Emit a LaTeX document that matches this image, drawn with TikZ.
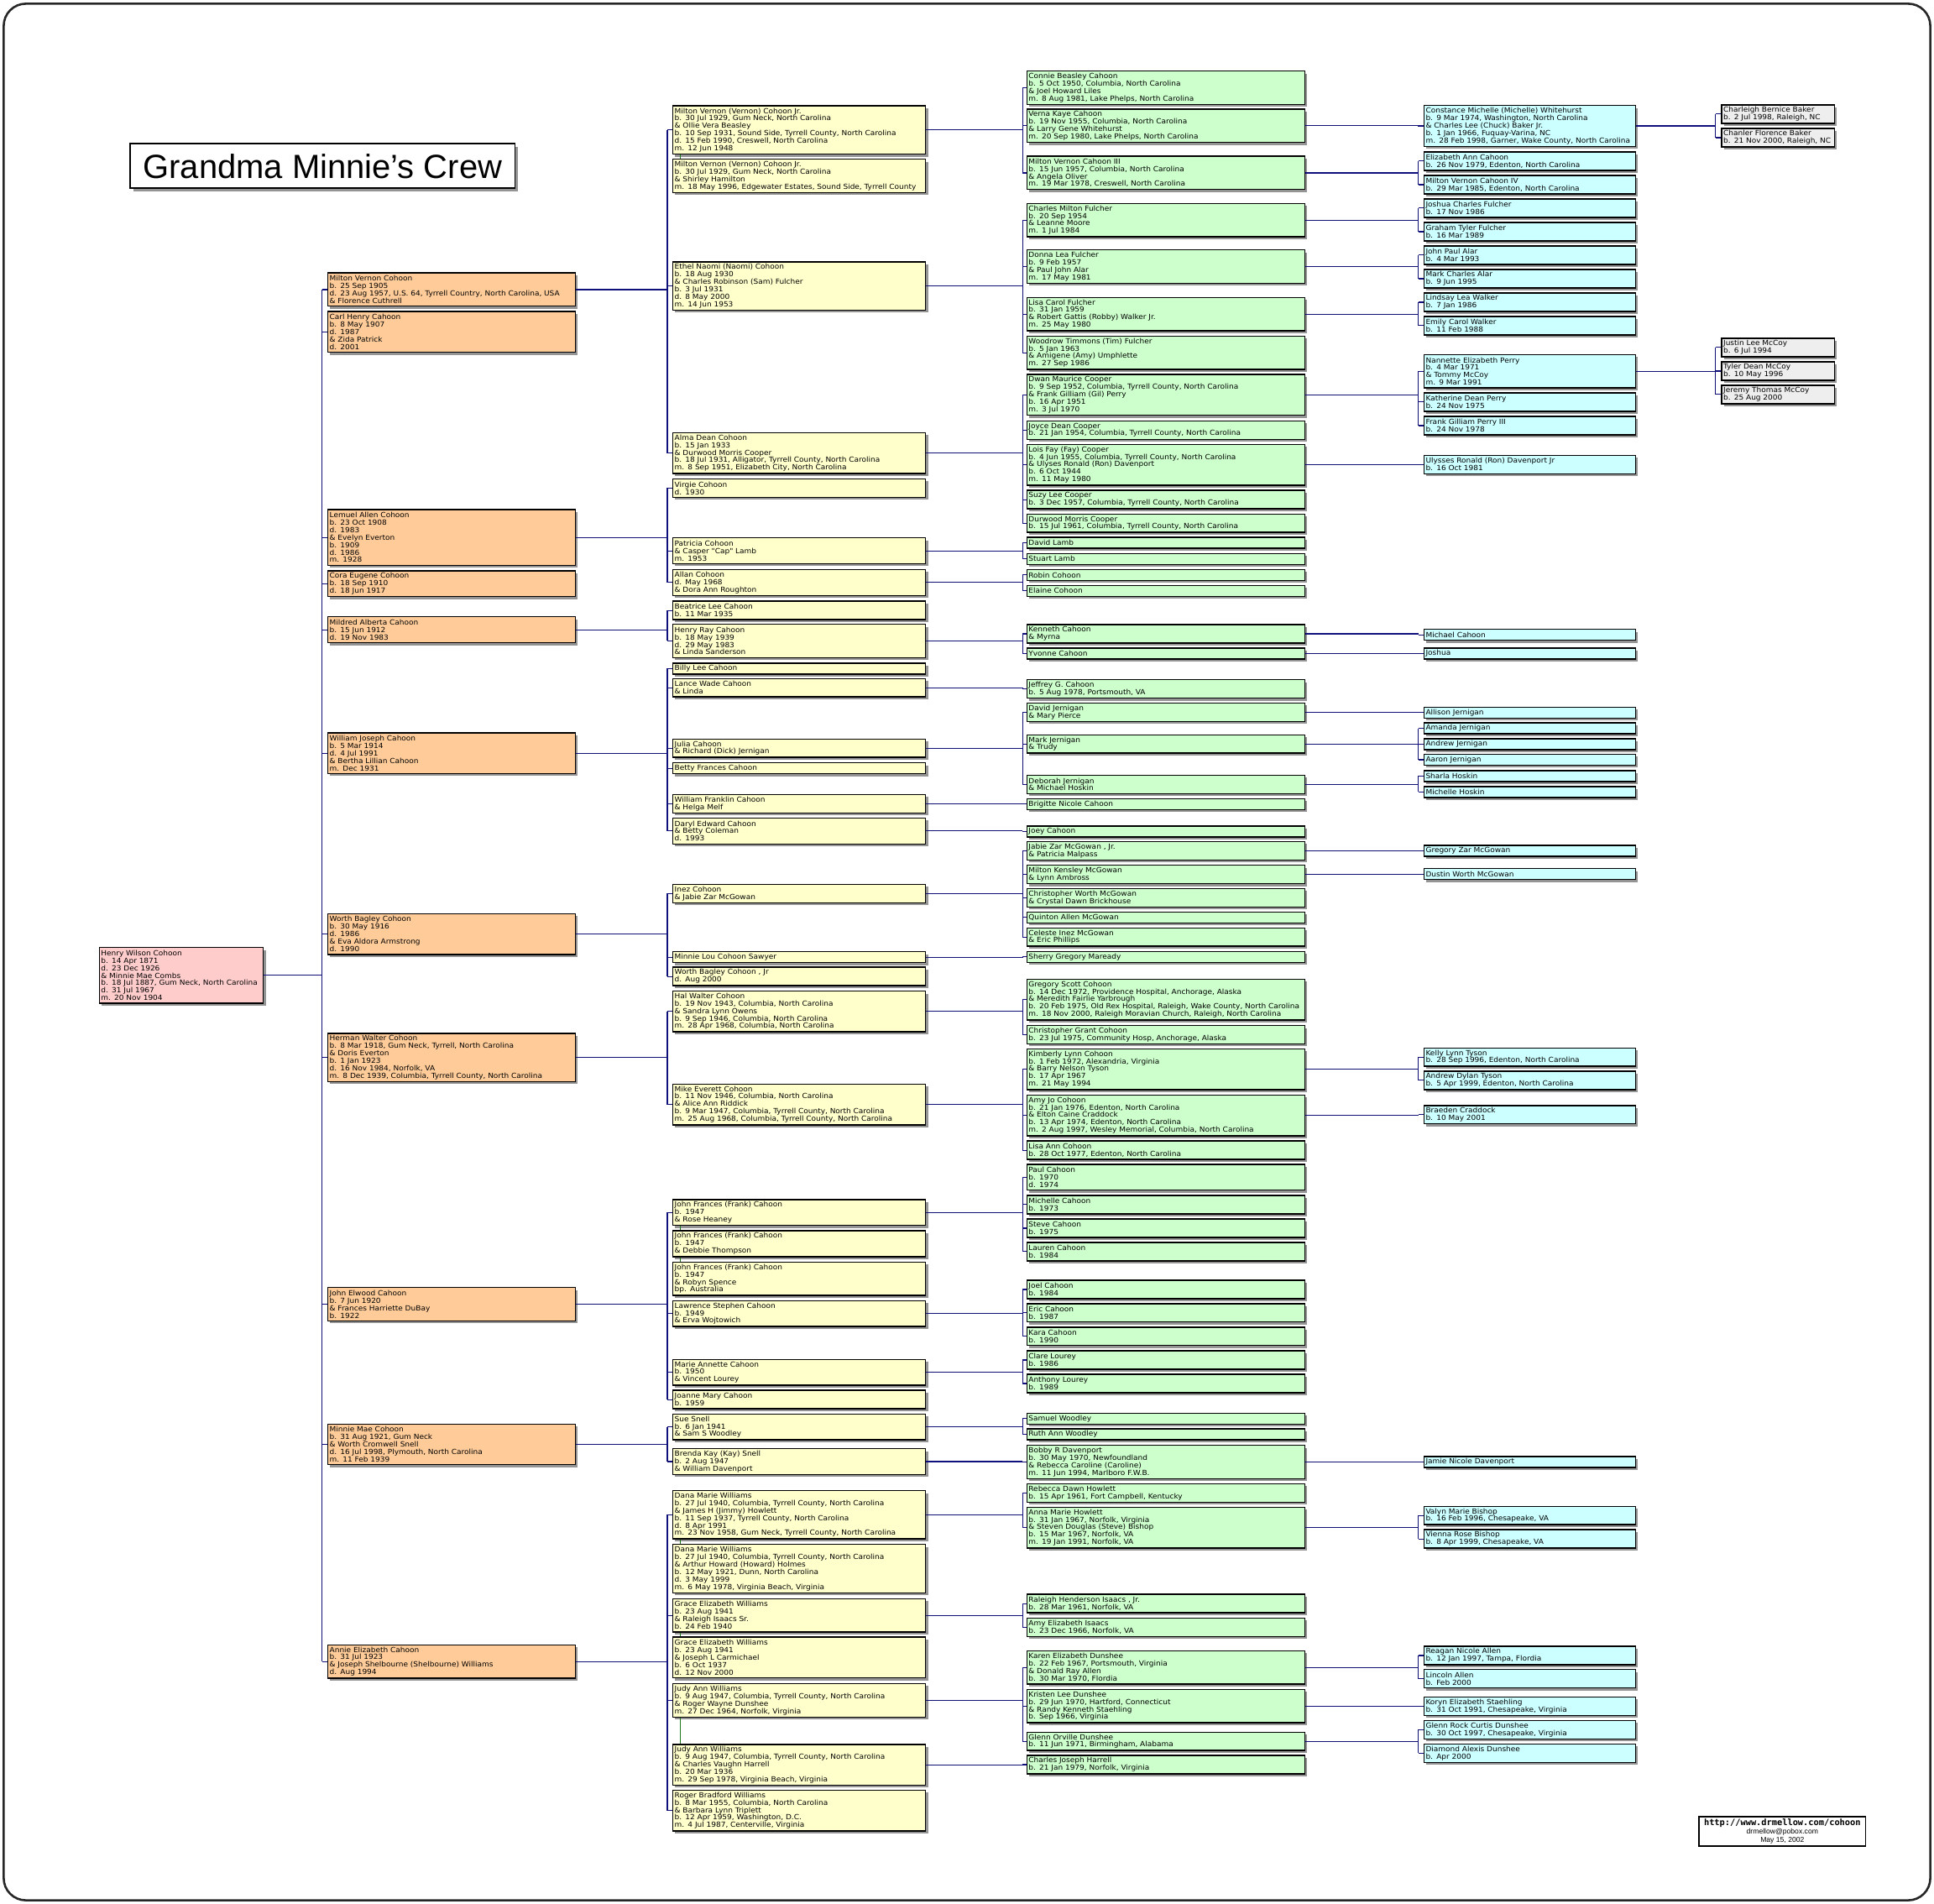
\documentclass[tikz,border=0pt]{standalone}
\usepackage{fontspec}
\setmainfont{DejaVu Sans}
\newfontfamily\boxfont{DejaVu Sans}[FakeStretch=1.065]
\newfontfamily\titlefont{Liberation Sans}
\newfontfamily\footmono{DejaVu Sans Mono}
\usetikzlibrary{shadows}
\definecolor{cpink}{HTML}{FFCCCC}
\definecolor{corange}{HTML}{FFCC99}
\definecolor{cyellow}{HTML}{FFFFCC}
\definecolor{cgreen}{HTML}{CCFFCC}
\definecolor{ccyan}{HTML}{CCFFFF}
\definecolor{cgray}{HTML}{EEEEEE}
\definecolor{cnavy}{HTML}{10107A}
\definecolor{cdup}{HTML}{1E7A1E}
\tikzset{
  psn/.style={draw=black, line width=0.4pt, anchor=north west, align=left,
    inner xsep=0.022cm, inner ysep=0pt,
    font=\boxfont\fontsize{2.45pt}{2.58pt}\selectfont,
    drop shadow={shadow xshift=0.03cm, shadow yshift=-0.03cm, fill=black!42, opacity=1}},
  k0/.style={psn, fill=cpink, text width=1.951cm},
  k1/.style={psn, fill=corange, text width=2.964cm},
  k2/.style={psn, fill=cyellow, text width=3.031cm},
  k3/.style={psn, fill=cgreen, text width=3.336cm},
  k4/.style={psn, fill=ccyan, text width=2.529cm},
  k5/.style={psn, fill=cgray, text width=1.329cm},
  conn/.style={draw=cnavy, line width=0.32pt},
  dupline/.style={draw=cdup, line width=0.32pt},
}
\newcommand\bx[6]{\node[#2, minimum height={(6.05*#5+2.8)*0.015cm}] (#1) at (#3,#4) {#6};}
\newcommand\cA[4]{\bx{#1}{k0}{80}{#2}{#3}{#4}}
\newcommand\cB[4]{\bx{#1}{k1}{265.3}{#2}{#3}{#4}}
\newcommand\cC[4]{\bx{#1}{k2}{545}{#2}{#3}{#4}}
\newcommand\cD[4]{\bx{#1}{k3}{832}{#2}{#3}{#4}}
\newcommand\cE[4]{\bx{#1}{k4}{1154}{#2}{#3}{#4}}
\newcommand\cF[4]{\bx{#1}{k5}{1395.3}{#2}{#3}{#4}}
\newcommand\kinlink[5]{%
  \draw[conn] (#1.east) -- (#1.east -| #2) (#1.east -| #2) -- (#3.west -| #2) (#1.east -| #2) -- (#4.west -| #2);
  \foreach \c in {#5} {\draw[conn] (\c.west -| #2) -- (\c.west);}
}
\newcommand\duplink[2]{\draw[dupline] (#1.south -| g) -- (#2.north -| g);}
\begin{document}
\begin{tikzpicture}[x=0.015cm, y=-0.015cm]
\useasboundingbox (0,0) rectangle (1568,1543.5);
\fill[white] (0,0) rectangle (1568,1543.5);
\draw[line width=0.75pt, rounded corners=0.27cm, draw=black!85] (3,3) rectangle (1565,1540.5);
\coordinate (b1) at (261,0);
\coordinate (b2) at (541,0);
\coordinate (b3) at (829,0);
\coordinate (b4) at (1150,0);
\coordinate (b5) at (1391,0);
\coordinate (g) at (551.5,0);

% title
\node[draw=black, line width=0.5pt, fill=white, anchor=north west, minimum width={312*0.015cm}, minimum height={36*0.015cm}, inner sep=0pt,
  drop shadow={shadow xshift=0.035cm, shadow yshift=-0.035cm, fill=black!42, opacity=1},
  font=\titlefont\fontsize{11.6pt}{13pt}\selectfont] (title) at (105,116) {Grandma Minnie’s Crew};

% footer
\node[draw=black, line width=0.45pt, fill=white, anchor=north west, minimum width={135*0.015cm}, minimum height={24*0.015cm}, inner sep=0pt, align=center,
  font=\titlefont\fontsize{2.5pt}{2.95pt}\selectfont] (footer) at (1377,1472)
  {{\footmono\bfseries\fontsize{3.0pt}{2.95pt}\selectfont http://www.drmellow.com/cohoon}\\ drmellow@pobox.com\\ May 15, 2002};

% generation 0
\cA{henry}{767.7}{7}{Henry Wilson Cohoon\\ b. 14 Apr 1871\\ d. 23 Dec 1926\\ \& Minnie Mae Combs\\ b. 18 Jul 1887, Gum Neck, North Carolina\\ d. 31 Jul 1967\\ m. 20 Nov 1904}

% generation 1
\cB{mvc}{220.8}{4}{Milton Vernon Cohoon\\ b. 25 Sep 1905\\ d. 23 Aug 1957, U.S. 64, Tyrrell Country, North Carolina, USA\\ \& Florence Cuthrell}
\cB{carl}{252.1}{5}{Carl Henry Cahoon\\ b. 8 May 1907\\ d. 1987\\ \& Zida Patrick\\ d. 2001}
\cB{lemuel}{412.6}{7}{Lemuel Allen Cohoon\\ b. 23 Oct 1908\\ d. 1983\\ \& Evelyn Everton\\ b. 1909\\ d. 1986\\ m. 1928}
\cB{cora}{462.2}{3}{Cora Eugene Cohoon\\ b. 18 Sep 1910\\ d. 18 Jun 1917}
\cB{mildred}{499.6}{3}{Mildred Alberta Cahoon\\ b. 15 Jun 1912\\ d. 19 Nov 1983}
\cB{william}{593.6}{5}{William Joseph Cahoon\\ b. 5 Mar 1914\\ d. 4 Jul 1991\\ \& Bertha Lillian Cahoon\\ m. Dec 1931}
\cB{worth}{740.2}{5}{Worth Bagley Cohoon\\ b. 30 May 1916\\ d. 1986\\ \& Eva Aldora Armstrong\\ d. 1990}
\cB{herman}{837.2}{6}{Herman Walter Cohoon\\ b. 8 Mar 1918, Gum Neck, Tyrrell, North Carolina\\ \& Doris Everton\\ b. 1 Jan 1923\\ d. 16 Nov 1984, Norfolk, VA\\ m. 8 Dec 1939, Columbia, Tyrrell County, North Carolina}
\cB{johne}{1043.3}{4}{John Elwood Cahoon\\ b. 7 Jun 1920\\ \& Frances Harriette DuBay\\ b. 1922}
\cB{minnie}{1153.9}{5}{Minnie Mae Cohoon\\ b. 31 Aug 1921, Gum Neck\\ \& Worth Cromwell Snell\\ d. 16 Jul 1998, Plymouth, North Carolina\\ m. 11 Feb 1939}
\cB{annie}{1332.9}{4}{Annie Elizabeth Cahoon\\ b. 31 Jul 1923\\ \& Joseph Shelbourne (Shelbourne) Williams\\ d. Aug 1994}

% generation 2
\cC{mvj1}{85.4}{6}{Milton Vernon (Vernon) Cohoon Jr.\\ b. 30 Jul 1929, Gum Neck, North Carolina\\ \& Ollie Vera Beasley\\ b. 10 Sep 1931, Sound Side, Tyrrell County, North Carolina\\ d. 15 Feb 1990, Creswell, North Carolina\\ m. 12 Jun 1948}
\cC{mvj2}{128.6}{4}{Milton Vernon (Vernon) Cohoon Jr.\\ b. 30 Jul 1929, Gum Neck, North Carolina\\ \& Shirley Hamilton\\ m. 18 May 1996, Edgewater Estates, Sound Side, Tyrrell County}
\cC{ethel}{211.9}{6}{Ethel Naomi (Naomi) Cohoon\\ b. 18 Aug 1930\\ \& Charles Robinson (Sam) Fulcher\\ b. 3 Jul 1931\\ d. 8 May 2000\\ m. 14 Jun 1953}
\cC{alma}{350.3}{5}{Alma Dean Cohoon\\ b. 15 Jan 1933\\ \& Durwood Morris Cooper\\ b. 18 Jul 1931, Alligator, Tyrrell County, North Carolina\\ m. 8 Sep 1951, Elizabeth City, North Carolina}
\cC{virgie}{387.8}{2}{Virgie Cohoon\\ d. 1930}
\cC{patricia}{435.6}{3}{Patricia Cohoon\\ \& Casper "Cap" Lamb\\ m. 1953}
\cC{allan}{461.3}{3}{Allan Cohoon\\ d. May 1968\\ \& Dora Ann Roughton}
\cC{beatrice}{486.9}{2}{Beatrice Lee Cahoon\\ b. 11 Mar 1935}
\cC{henryray}{505.6}{4}{Henry Ray Cahoon\\ b. 18 May 1939\\ d. 29 May 1983\\ \& Linda Sanderson}
\cC{billy}{537.1}{1}{Billy Lee Cahoon}
\cC{lance}{549.6}{2}{Lance Wade Cahoon\\ \& Linda}
\cC{julia}{598.6}{2}{Julia Cahoon\\ \& Richard (Dick) Jernigan}
\cC{betty}{618.0}{1}{Betty Frances Cahoon}
\cC{wfranklin}{643.6}{2}{William Franklin Cahoon\\ \& Helga Melf}
\cC{daryl}{662.7}{3}{Daryl Edward Cahoon\\ \& Betty Coleman\\ d. 1993}
\cC{inez}{716.4}{2}{Inez Cohoon\\ \& Jabie Zar McGowan}
\cC{minnielou}{771.1}{1}{Minnie Lou Cohoon Sawyer}
\cC{worthjr}{783.6}{2}{Worth Bagley Cohoon , Jr\\ d. Aug 2000}
\cC{hal}{803.0}{5}{Hal Walter Cohoon\\ b. 19 Nov 1943, Columbia, North Carolina\\ \& Sandra Lynn Owens\\ b. 9 Sep 1946, Columbia, North Carolina\\ m. 28 Apr 1968, Columbia, North Carolina}
\cC{mike}{878.3}{5}{Mike Everett Cohoon\\ b. 11 Nov 1946, Columbia, North Carolina\\ \& Alice Ann Riddick\\ b. 9 Mar 1947, Columbia, Tyrrell County, North Carolina\\ m. 25 Aug 1968, Columbia, Tyrrell County, North Carolina}
\cC{jf1}{972.0}{3}{John Frances (Frank) Cahoon\\ b. 1947\\ \& Rose Heaney}
\cC{jf2}{997.3}{3}{John Frances (Frank) Cahoon\\ b. 1947\\ \& Debbie Thompson}
\cC{jf3}{1022.7}{4}{John Frances (Frank) Cahoon\\ b. 1947\\ \& Robyn Spence\\ bp. Australia}
\cC{lawrence}{1053.9}{3}{Lawrence Stephen Cahoon\\ b. 1949\\ \& Erva Wojtowich}
\cC{marie}{1101.5}{3}{Marie Annette Cahoon\\ b. 1950\\ \& Vincent Lourey}
\cC{joanne}{1126.6}{2}{Joanne Mary Cahoon\\ b. 1959}
\cC{sue}{1145.8}{3}{Sue Snell\\ b. 6 Jan 1941\\ \& Sam S Woodley}
\cC{brenda}{1173.9}{3}{Brenda Kay (Kay) Snell\\ b. 2 Aug 1947\\ \& William Davenport}
\cC{dana1}{1208.0}{6}{Dana Marie Williams\\ b. 27 Jul 1940, Columbia, Tyrrell County, North Carolina\\ \& James H (Jimmy) Howlett\\ b. 11 Sep 1937, Tyrrell County, North Carolina\\ d. 8 Apr 1991\\ m. 23 Nov 1958, Gum Neck, Tyrrell County, North Carolina}
\cC{dana2}{1251.6}{6}{Dana Marie Williams\\ b. 27 Jul 1940, Columbia, Tyrrell County, North Carolina\\ \& Arthur Howard (Howard) Holmes\\ b. 12 May 1921, Dunn, North Carolina\\ d. 3 May 1999\\ m. 6 May 1978, Virginia Beach, Virginia}
\cC{grace1}{1295.5}{4}{Grace Elizabeth Williams\\ b. 23 Aug 1941\\ \& Raleigh Isaacs Sr.\\ b. 24 Feb 1940}
\cC{grace2}{1326.7}{5}{Grace Elizabeth Williams\\ b. 23 Aug 1941\\ \& Joseph L Carmichael\\ b. 6 Oct 1937\\ d. 12 Nov 2000}
\cC{judy1}{1364.4}{4}{Judy Ann Williams\\ b. 9 Aug 1947, Columbia, Tyrrell County, North Carolina\\ \& Roger Wayne Dunshee\\ m. 27 Dec 1964, Norfolk, Virginia}
\cC{judy2}{1413.6}{5}{Judy Ann Williams\\ b. 9 Aug 1947, Columbia, Tyrrell County, North Carolina\\ \& Charles Vaughn Harrell\\ b. 20 Mar 1936\\ m. 29 Sep 1978, Virginia Beach, Virginia}
\cC{roger}{1450.8}{5}{Roger Bradford Williams\\ b. 8 Mar 1955, Columbia, North Carolina\\ \& Barbara Lynn Triplett\\ b. 12 Apr 1959, Washington, D.C.\\ m. 4 Jul 1987, Centerville, Virginia}

% generation 3
\cD{connie}{57.2}{4}{Connie Beasley Cahoon\\ b. 5 Oct 1950, Columbia, North Carolina\\ \& Joel Howard Liles\\ m. 8 Aug 1981, Lake Phelps, North Carolina}
\cD{verna}{88.0}{4}{Verna Kaye Cahoon\\ b. 19 Nov 1955, Columbia, North Carolina\\ \& Larry Gene Whitehurst\\ m. 20 Sep 1980, Lake Phelps, North Carolina}
\cD{mv3}{126.2}{4}{Milton Vernon Cahoon III\\ b. 15 Jun 1957, Columbia, North Carolina\\ \& Angela Oliver\\ m. 19 Mar 1978, Creswell, North Carolina}
\cD{charlesm}{164.4}{4}{Charles Milton Fulcher\\ b. 20 Sep 1954\\ \& Leanne Moore\\ m. 1 Jul 1984}
\cD{donna}{202.1}{4}{Donna Lea Fulcher\\ b. 9 Feb 1957\\ \& Paul John Alar\\ m. 17 May 1981}
\cD{lisac}{240.6}{4}{Lisa Carol Fulcher\\ b. 31 Jan 1959\\ \& Robert Gattis (Robby) Walker Jr.\\ m. 25 May 1980}
\cD{woodrow}{272.0}{4}{Woodrow Timmons (Tim) Fulcher\\ b. 5 Jan 1963\\ \& Amigene (Amy) Umphlette\\ m. 27 Sep 1986}
\cD{dwan}{303.1}{5}{Dwan Maurice Cooper\\ b. 9 Sep 1952, Columbia, Tyrrell County, North Carolina\\ \& Frank Gilliam (Gil) Perry\\ b. 16 Apr 1951\\ m. 3 Jul 1970}
\cD{joyce}{340.7}{2}{Joyce Dean Cooper\\ b. 21 Jan 1954, Columbia, Tyrrell County, North Carolina}
\cD{lois}{359.8}{5}{Lois Fay (Fay) Cooper\\ b. 4 Jun 1955, Columbia, Tyrrell County, North Carolina\\ \& Ulyses Ronald (Ron) Davenport\\ b. 6 Oct 1944\\ m. 11 May 1980}
\cD{suzy}{397.1}{2}{Suzy Lee Cooper\\ b. 3 Dec 1957, Columbia, Tyrrell County, North Carolina}
\cD{durwood}{416.2}{2}{Durwood Morris Cooper\\ b. 15 Jul 1961, Columbia, Tyrrell County, North Carolina}
\cD{davidl}{435.0}{1}{David Lamb}
\cD{stuart}{448.2}{1}{Stuart Lamb}
\cD{robin}{461.2}{1}{Robin Cohoon}
\cD{elaine}{474.1}{1}{Elaine Cohoon}
\cD{kenneth}{505.9}{2}{Kenneth Cahoon\\ \& Myrna}
\cD{yvonne}{525.0}{1}{Yvonne Cahoon}
\cD{jeffrey}{550.6}{2}{Jeffrey G. Cahoon\\ b. 5 Aug 1978, Portsmouth, VA}
\cD{davidj}{569.4}{2}{David Jernigan\\ \& Mary Pierce}
\cD{markj}{595.2}{2}{Mark Jernigan\\ \& Trudy}
\cD{deborah}{628.0}{2}{Deborah Jernigan\\ \& Michael Hoskin}
\cD{brigitte}{646.9}{1}{Brigitte Nicole Cahoon}
\cD{joey}{669.1}{1}{Joey Cahoon}
\cD{jabie}{681.8}{2}{Jabie Zar McGowan , Jr.\\ \& Patricia Malpass}
\cD{miltonk}{701.0}{2}{Milton Kensley McGowan\\ \& Lynn Ambross}
\cD{chrisw}{719.8}{2}{Christopher Worth McGowan\\ \& Crystal Dawn Brickhouse}
\cD{quinton}{738.9}{1}{Quinton Allen McGowan}
\cD{celeste}{751.7}{2}{Celeste Inez McGowan\\ \& Eric Phillips}
\cD{sherry}{770.9}{1}{Sherry Gregory Maready}
\cD{gregs}{793.3}{5}{Gregory Scott Cohoon\\ b. 14 Dec 1972, Providence Hospital, Anchorage, Alaska\\ \& Meredith Fairlie Yarbrough\\ b. 20 Feb 1975, Old Rex Hospital, Raleigh, Wake County, North Carolina\\ m. 18 Nov 2000, Raleigh Moravian Church, Raleigh, North Carolina}
\cD{chrisg}{830.9}{2}{Christopher Grant Cohoon\\ b. 23 Jul 1975, Community Hosp, Anchorage, Alaska}
\cD{kimberly}{849.8}{5}{Kimberly Lynn Cohoon\\ b. 1 Feb 1972, Alexandria, Virginia\\ \& Barry Nelson Tyson\\ b. 17 Apr 1967\\ m. 21 May 1994}
\cD{amyjo}{887.2}{5}{Amy Jo Cohoon\\ b. 21 Jan 1976, Edenton, North Carolina\\ \& Elton Caine Craddock\\ b. 13 Apr 1974, Edenton, North Carolina\\ m. 2 Aug 1997, Wesley Memorial, Columbia, North Carolina}
\cD{lisaann}{924.5}{2}{Lisa Ann Cohoon\\ b. 28 Oct 1977, Edenton, North Carolina}
\cD{paul}{943.4}{3}{Paul Cahoon\\ b. 1970\\ d. 1974}
\cD{michellec}{968.6}{2}{Michelle Cahoon\\ b. 1973}
\cD{steve}{987.7}{2}{Steve Cahoon\\ b. 1975}
\cD{lauren}{1006.7}{2}{Lauren Cahoon\\ b. 1984}
\cD{joel}{1037.4}{2}{Joel Cahoon\\ b. 1984}
\cD{eric}{1056.3}{2}{Eric Cahoon\\ b. 1987}
\cD{kara}{1075.4}{2}{Kara Cahoon\\ b. 1990}
\cD{clare}{1094.6}{2}{Clare Lourey\\ b. 1986}
\cD{anthony}{1113.6}{2}{Anthony Lourey\\ b. 1989}
\cD{samuel}{1145.1}{1}{Samuel Woodley}
\cD{ruth}{1157.9}{1}{Ruth Ann Woodley}
\cD{bobby}{1171.2}{4}{Bobby R Davenport\\ b. 30 May 1970, Newfoundland\\ \& Rebecca Caroline (Caroline)\\ m. 11 Jun 1994, Marlboro F.W.B.}
\cD{rebecca}{1202.3}{2}{Rebecca Dawn Howlett\\ b. 15 Apr 1961, Fort Campbell, Kentucky}
\cD{annam}{1221.3}{5}{Anna Marie Howlett\\ b. 31 Jan 1967, Norfolk, Virginia\\ \& Steven Douglas (Steve) Bishop\\ b. 15 Mar 1967, Norfolk, VA\\ m. 19 Jan 1991, Norfolk, VA}
\cD{raleigh}{1292.0}{2}{Raleigh Henderson Isaacs , Jr.\\ b. 28 Mar 1961, Norfolk, VA}
\cD{amye}{1311.2}{2}{Amy Elizabeth Isaacs\\ b. 23 Dec 1966, Norfolk, VA}
\cD{karen}{1337.8}{4}{Karen Elizabeth Dunshee\\ b. 22 Feb 1967, Portsmouth, Virginia\\ \& Donald Ray Allen\\ b. 30 Mar 1970, Flordia}
\cD{kristen}{1369.1}{4}{Kristen Lee Dunshee\\ b. 29 Jun 1970, Hartford, Connecticut\\ \& Randy Kenneth Staehling\\ b. Sep 1966, Virginia}
\cD{glenn}{1403.7}{2}{Glenn Orville Dunshee\\ b. 11 Jun 1971, Birmingham, Alabama}
\cD{charlesj}{1422.6}{2}{Charles Joseph Harrell\\ b. 21 Jan 1979, Norfolk, Virginia}

% generation 4
\cE{constance}{85.1}{5}{Constance Michelle (Michelle) Whitehurst\\ b. 9 Mar 1974, Washington, North Carolina\\ \& Charles Lee (Chuck) Baker Jr.\\ b. 1 Jan 1966, Fuquay-Varina, NC\\ m. 28 Feb 1998, Garner, Wake County, North Carolina}
\cE{elizabeth}{122.7}{2}{Elizabeth Ann Cahoon\\ b. 26 Nov 1979, Edenton, North Carolina}
\cE{mv4}{141.8}{2}{Milton Vernon Cahoon IV\\ b. 29 Mar 1985, Edenton, North Carolina}
\cE{joshuacf}{160.8}{2}{Joshua Charles Fulcher\\ b. 17 Nov 1986}
\cE{graham}{179.9}{2}{Graham Tyler Fulcher\\ b. 16 Mar 1989}
\cE{johnpaul}{198.9}{2}{John Paul Alar\\ b. 4 Mar 1993}
\cE{markc}{218.0}{2}{Mark Charles Alar\\ b. 9 Jun 1995}
\cE{lindsay}{237.1}{2}{Lindsay Lea Walker\\ b. 7 Jan 1986}
\cE{emily}{256.1}{2}{Emily Carol Walker\\ b. 11 Feb 1988}
\cE{nannette}{287.0}{4}{Nannette Elizabeth Perry\\ b. 4 Mar 1971\\ \& Tommy McCoy\\ m. 9 Mar 1991}
\cE{katherine}{318.0}{2}{Katherine Dean Perry\\ b. 24 Nov 1975}
\cE{frank3}{337.1}{2}{Frank Gilliam Perry III\\ b. 24 Nov 1978}
\cE{ulysses}{368.6}{2}{Ulysses Ronald (Ron) Davenport Jr\\ b. 16 Oct 1981}
\cE{michael}{509.8}{1}{Michael Cahoon}
\cE{joshua}{525.0}{1}{Joshua}
\cE{allison}{572.7}{1}{Allison Jernigan}
\cE{amanda}{585.6}{1}{Amanda Jernigan}
\cE{andrew}{598.5}{1}{Andrew Jernigan}
\cE{aaron}{611.0}{1}{Aaron Jernigan}
\cE{sharla}{624.2}{1}{Sharla Hoskin}
\cE{michelleh}{637.1}{1}{Michelle Hoskin}
\cE{gregoryz}{684.8}{1}{Gregory Zar McGowan}
\cE{dustin}{703.7}{1}{Dustin Worth McGowan}
\cE{kelly}{849.0}{2}{Kelly Lynn Tyson\\ b. 28 Sep 1996, Edenton, North Carolina}
\cE{andrewd}{867.9}{2}{Andrew Dylan Tyson\\ b. 5 Apr 1999, Edenton, North Carolina}
\cE{braeden}{895.7}{2}{Braeden Craddock\\ b. 10 May 2001}
\cE{jamie}{1180.3}{1}{Jamie Nicole Davenport}
\cE{valyn}{1220.6}{2}{Valyn Marie Bishop\\ b. 16 Feb 1996, Chesapeake, VA}
\cE{vienna}{1239.6}{2}{Vienna Rose Bishop\\ b. 8 Apr 1999, Chesapeake, VA}
\cE{reagan}{1334.1}{2}{Reagan Nicole Allen\\ b. 12 Jan 1997, Tampa, Flordia}
\cE{lincoln}{1353.0}{2}{Lincoln Allen\\ b. Feb 2000}
\cE{koryn}{1375.3}{2}{Koryn Elizabeth Staehling\\ b. 31 Oct 1991, Chesapeake, Virginia}
\cE{glennrock}{1394.3}{2}{Glenn Rock Curtis Dunshee\\ b. 30 Oct 1997, Chesapeake, Virginia}
\cE{diamond}{1413.3}{2}{Diamond Alexis Dunshee\\ b. Apr 2000}

% generation 5
\cF{charleigh}{84.6}{2}{Charleigh Bernice Baker\\ b. 2 Jul 1998, Raleigh, NC}
\cF{chanler}{103.7}{2}{Chanler Florence Baker\\ b. 21 Nov 2000, Raleigh, NC}
\cF{justin}{273.8}{2}{Justin Lee McCoy\\ b. 6 Jul 1994}
\cF{tyler}{292.9}{2}{Tyler Dean McCoy\\ b. 10 May 1996}
\cF{jeremy}{311.9}{2}{Jeremy Thomas McCoy\\ b. 25 Aug 2000}

% duplicate-person links
\duplink{mvj1}{mvj2}
\duplink{jf1}{jf2}
\duplink{jf2}{jf3}
\duplink{dana1}{dana2}
\duplink{grace1}{grace2}
\duplink{judy1}{judy2}

% connectors
\kinlink{henry}{b1}{mvc}{annie}{mvc,carl,lemuel,cora,mildred,william,worth,herman,johne,minnie,annie}

\kinlink{mvc}{b2}{mvj1}{alma}{mvj1,ethel,alma}
\kinlink{lemuel}{b2}{virgie}{allan}{virgie,patricia,allan}
\kinlink{mildred}{b2}{beatrice}{henryray}{beatrice,henryray}
\kinlink{william}{b2}{billy}{daryl}{billy,lance,julia,betty,wfranklin,daryl}
\kinlink{worth}{b2}{inez}{worthjr}{inez,minnielou,worthjr}
\kinlink{herman}{b2}{hal}{mike}{hal,mike}
\kinlink{johne}{b2}{jf1}{joanne}{jf1,lawrence,marie,joanne}
\kinlink{minnie}{b2}{sue}{brenda}{sue,brenda}
\kinlink{annie}{b2}{dana1}{roger}{dana1,grace1,judy1,roger}

\kinlink{mvj1}{b3}{connie}{mv3}{connie,verna,mv3}
\kinlink{ethel}{b3}{charlesm}{woodrow}{charlesm,donna,lisac,woodrow}
\kinlink{alma}{b3}{dwan}{durwood}{dwan,joyce,lois,suzy,durwood}
\kinlink{patricia}{b3}{davidl}{stuart}{davidl,stuart}
\kinlink{allan}{b3}{robin}{elaine}{robin,elaine}
\kinlink{henryray}{b3}{kenneth}{yvonne}{kenneth,yvonne}
\kinlink{lance}{b3}{jeffrey}{jeffrey}{jeffrey}
\kinlink{julia}{b3}{davidj}{deborah}{davidj,markj,deborah}
\kinlink{wfranklin}{b3}{brigitte}{brigitte}{brigitte}
\kinlink{daryl}{b3}{joey}{joey}{joey}
\kinlink{inez}{b3}{jabie}{celeste}{jabie,miltonk,chrisw,quinton,celeste}
\kinlink{minnielou}{b3}{sherry}{sherry}{sherry}
\kinlink{hal}{b3}{gregs}{chrisg}{gregs,chrisg}
\kinlink{mike}{b3}{kimberly}{lisaann}{kimberly,amyjo,lisaann}
\kinlink{jf1}{b3}{paul}{lauren}{paul,michellec,steve,lauren}
\kinlink{lawrence}{b3}{joel}{kara}{joel,eric,kara}
\kinlink{marie}{b3}{clare}{anthony}{clare,anthony}
\kinlink{sue}{b3}{samuel}{ruth}{samuel,ruth}
\kinlink{brenda}{b3}{bobby}{bobby}{bobby}
\kinlink{dana1}{b3}{rebecca}{annam}{rebecca,annam}
\kinlink{grace1}{b3}{raleigh}{amye}{raleigh,amye}
\kinlink{judy1}{b3}{karen}{glenn}{karen,kristen,glenn}
\kinlink{judy2}{b3}{charlesj}{charlesj}{charlesj}

\kinlink{verna}{b4}{constance}{constance}{constance}
\kinlink{mv3}{b4}{elizabeth}{mv4}{elizabeth,mv4}
\kinlink{charlesm}{b4}{joshuacf}{graham}{joshuacf,graham}
\kinlink{donna}{b4}{johnpaul}{markc}{johnpaul,markc}
\kinlink{lisac}{b4}{lindsay}{emily}{lindsay,emily}
\kinlink{dwan}{b4}{nannette}{frank3}{nannette,katherine,frank3}
\kinlink{lois}{b4}{ulysses}{ulysses}{ulysses}
\kinlink{kenneth}{b4}{michael}{michael}{michael}
\kinlink{yvonne}{b4}{joshua}{joshua}{joshua}
\kinlink{davidj}{b4}{allison}{allison}{allison}
\kinlink{markj}{b4}{amanda}{aaron}{amanda,andrew,aaron}
\kinlink{deborah}{b4}{sharla}{michelleh}{sharla,michelleh}
\kinlink{jabie}{b4}{gregoryz}{gregoryz}{gregoryz}
\kinlink{miltonk}{b4}{dustin}{dustin}{dustin}
\kinlink{kimberly}{b4}{kelly}{andrewd}{kelly,andrewd}
\kinlink{amyjo}{b4}{braeden}{braeden}{braeden}
\kinlink{bobby}{b4}{jamie}{jamie}{jamie}
\kinlink{annam}{b4}{valyn}{vienna}{valyn,vienna}
\kinlink{karen}{b4}{reagan}{lincoln}{reagan,lincoln}
\kinlink{kristen}{b4}{koryn}{koryn}{koryn}
\kinlink{glenn}{b4}{glennrock}{diamond}{glennrock,diamond}

\kinlink{constance}{b5}{charleigh}{chanler}{charleigh,chanler}
\kinlink{nannette}{b5}{justin}{jeremy}{justin,tyler,jeremy}
\end{tikzpicture}
\end{document}
